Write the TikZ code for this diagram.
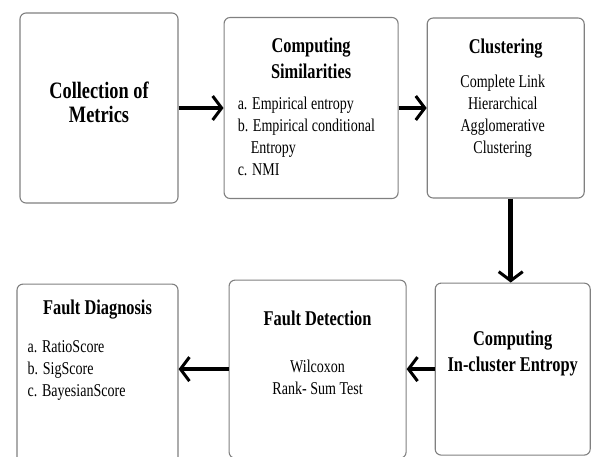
\documentclass[tikz,border=0pt]{standalone}
\usepackage{fontspec}
\setmainfont{Liberation Serif}[FakeStretch=0.78]
\usepackage{tikz}
\usetikzlibrary{arrows.meta, positioning}
\tikzstyle{block}=[rectangle, draw=black!50, line width=1.1pt, rounded corners=6pt, inner sep=0pt]
\tikzstyle{head}=[inner sep=0pt, align=center, font=\fontsize{21}{26}\selectfont\bfseries]
\tikzstyle{bigtitle}=[inner sep=0pt, align=center, font=\fontsize{23.5}{24}\selectfont\bfseries]
\tikzstyle{itemtext}=[inner sep=0pt, align=left, font=\fontsize{18}{22}\selectfont]
\tikzstyle{midtext}=[inner sep=0pt, align=center, font=\fontsize{18}{22}\selectfont]
\tikzstyle{flow}=[line width=4.5pt, -{Straight Barb[length=9pt, width=24pt, line width=3pt]}]

\begin{document}
\begin{tikzpicture}[x=1pt, y=-1pt, node distance=28pt, >=Stealth]
  \useasboundingbox (0,0) rectangle (592,456);

  % upper row
  \node[block, minimum width=158pt, minimum height=190pt] (metrics) at (99,108) {};
  \node[block, minimum width=174pt, minimum height=181pt] (sim) [right=45pt of metrics] {};
  \node[block, minimum width=157pt, minimum height=180pt] (clust) [right=of sim] {};

  % lower row
  \node[block, minimum width=155pt, minimum height=172pt] (ent) [below=84pt of clust, xshift=7pt] {};
  \node[block, minimum width=177pt, minimum height=178pt] (det) [left=of ent] {};
  \node[block, minimum width=161pt, minimum height=186pt] (diag) [left=50pt of det, yshift=-8pt] {};

  % texts (anchored at the last baseline)
  \node[bigtitle, anchor=base] (metricstext) at ([yshift=-110pt]metrics.north) {Collection of\\Metrics};
  \node[head, anchor=base] (simhead) at ([yshift=-62pt]sim.north) {Computing\\Similarities};
  \node[itemtext, anchor=base west] (simlist) at ([xshift=14pt, yshift=-159pt]sim.north west)
    {a. Empirical entropy\\b. Empirical conditional\\\hspace*{13pt}Entropy\\c. NMI};
  \node[head, anchor=base] (clusthead) at ([yshift=-36pt]clust.north) {Clustering};
  \node[midtext, anchor=base] (clusttext) at ([xshift=-3pt, yshift=-136pt]clust.north)
    {Complete Link\\Hierarchical\\Agglomerative\\Clustering};
  \node[head, anchor=base] (enthead) at ([yshift=-89pt]ent.north) {Computing\\In-cluster Entropy};
  \node[head, anchor=base] (dethead) at ([yshift=-46pt]det.north) {Fault Detection};
  \node[midtext, anchor=base] (dettext) at ([yshift=-115pt]det.north) {Wilcoxon\\Rank- Sum Test};
  \node[head, anchor=base] (diaghead) at ([yshift=-31pt]diag.north) {Fault Diagnosis};
  \node[itemtext, anchor=base west] (diaglist) at ([xshift=11pt, yshift=-113pt]diag.north west)
    {a. RatioScore\\b. SigScore\\c. BayesianScore};

  % arrows
  \draw[flow] (metrics.east) -- (metrics.east -| sim.west);
  \draw[flow] (sim.east) -- (sim.east -| clust.west);
  \draw[flow] ([xshift=5pt]clust.south) -- ([xshift=5pt]clust.south |- ent.north);
  \draw[flow] (ent.west) -- (ent.west -| det.east);
  \draw[flow] (det.west) -- (det.west -| diag.east);
\end{tikzpicture}
\end{document}
